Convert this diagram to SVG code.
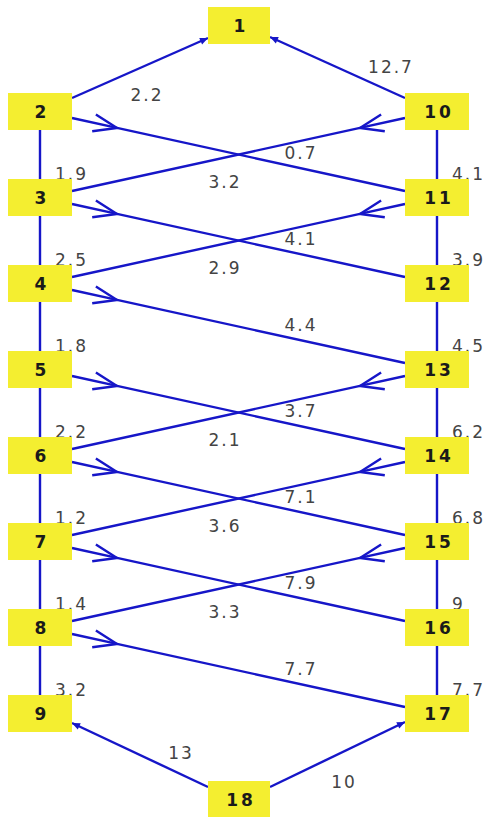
<svg xmlns="http://www.w3.org/2000/svg" width="488" height="817" viewBox="0 0 488 817">
<style>
.n rect{fill:#f4ee30}
.n text{font-family:"DejaVu Sans",Verdana,sans-serif;font-weight:bold;font-size:17px;fill:#1a1a1a;text-anchor:middle;letter-spacing:3px}
.e path{fill:none;stroke:#1616c8;stroke-width:2.4}
.l text{font-family:"DejaVu Sans",Verdana,sans-serif;font-size:17px;fill:#444;letter-spacing:2px}
.l .m{text-anchor:middle}
</style>
<defs>
<marker id="v" markerUnits="userSpaceOnUse" viewBox="-27 -11 30 22" refX="0" refY="0" markerWidth="30" markerHeight="22" orient="auto">
<path d="M-23.5,-8.6 L0,0 L-23.5,8.6" fill="none" stroke="#1616c8" stroke-width="2.4"/>
</marker>
<marker id="f" markerUnits="userSpaceOnUse" viewBox="-9 -5 10 10" refX="0" refY="0" markerWidth="10" markerHeight="10" orient="auto">
<path d="M-8,-3.5 L0,0 L-8,3.5 Z" fill="#1616c8"/>
</marker>
</defs>
<g id="connectors" class="e">
<path d="M72,98 L208,38" marker-end="url(#f)"/>
<path d="M405,98 L270,37" marker-end="url(#f)"/>
<path d="M208,787 L72,723" marker-end="url(#f)"/>
<path d="M270,787 L405,722" marker-end="url(#f)"/>
<path d="M40,130 V179 M40,216 V265 M40,302 V351 M40,388 V437 M40,474 V523 M40,560 V609 M40,646 V695"/>
<path d="M437,130 V179 M437,216 V265 M437,302 V351 M437,388 V437 M437,474 V523 M437,560 V609 M437,646 V695"/>
<path d="M72,118 L117,127.9 L405,191" marker-mid="url(#v)"/>
<path d="M72,204 L117,213.9 L405,277" marker-mid="url(#v)"/>
<path d="M72,290 L117,299.9 L405,363" marker-mid="url(#v)"/>
<path d="M72,376 L117,385.9 L405,449" marker-mid="url(#v)"/>
<path d="M72,462 L117,471.9 L405,535" marker-mid="url(#v)"/>
<path d="M72,548 L117,557.9 L405,621" marker-mid="url(#v)"/>
<path d="M72,634 L117,643.9 L405,707" marker-mid="url(#v)"/>
<path d="M405,118 L360,127.9 L72,191" marker-mid="url(#v)"/>
<path d="M405,204 L360,213.9 L72,277" marker-mid="url(#v)"/>
<path d="M405,376 L360,385.9 L72,449" marker-mid="url(#v)"/>
<path d="M405,462 L360,471.9 L72,535" marker-mid="url(#v)"/>
<path d="M405,548 L360,557.9 L72,621" marker-mid="url(#v)"/>
</g>
<g id="labels" class="l">
<text class="m" x="147" y="101">2.2</text>
<text class="m" x="391" y="73">12.7</text>
<text class="m" x="181" y="759">13</text>
<text class="m" x="344" y="788">10</text>
<text class="m" x="301" y="159">0.7</text>
<text class="m" x="225" y="187.5">3.2</text>
<text class="m" x="301" y="245">4.1</text>
<text class="m" x="225" y="273.5">2.9</text>
<text class="m" x="301" y="331">4.4</text>
<text class="m" x="301" y="417">3.7</text>
<text class="m" x="225" y="445.5">2.1</text>
<text class="m" x="301" y="503">7.1</text>
<text class="m" x="225" y="531.5">3.6</text>
<text class="m" x="301" y="589">7.9</text>
<text class="m" x="225" y="617.5">3.3</text>
<text class="m" x="301" y="675">7.7</text>
<text x="55" y="180">1.9</text>
<text x="55" y="266">2.5</text>
<text x="55" y="352">1.8</text>
<text x="55" y="438">2.2</text>
<text x="55" y="524">1.2</text>
<text x="55" y="610">1.4</text>
<text x="55" y="696">3.2</text>
<text x="452" y="180">4.1</text>
<text x="452" y="266">3.9</text>
<text x="452" y="352">4.5</text>
<text x="452" y="438">6.2</text>
<text x="452" y="524">6.8</text>
<text x="452" y="610">9</text>
<text x="452" y="696">7.7</text>
</g>
<g id="n1" class="n"><rect x="208" y="7" width="62" height="37"/><text x="241" y="32">1</text></g>
<g id="n2" class="n"><rect x="8" y="93" width="64" height="37"/><text x="42" y="118">2</text></g>
<g id="n3" class="n"><rect x="8" y="179" width="64" height="37"/><text x="42" y="204">3</text></g>
<g id="n4" class="n"><rect x="8" y="265" width="64" height="37"/><text x="42" y="290">4</text></g>
<g id="n5" class="n"><rect x="8" y="351" width="64" height="37"/><text x="42" y="376">5</text></g>
<g id="n6" class="n"><rect x="8" y="437" width="64" height="37"/><text x="42" y="462">6</text></g>
<g id="n7" class="n"><rect x="8" y="523" width="64" height="37"/><text x="42" y="548">7</text></g>
<g id="n8" class="n"><rect x="8" y="609" width="64" height="37"/><text x="42" y="634">8</text></g>
<g id="n9" class="n"><rect x="8" y="695" width="64" height="37"/><text x="42" y="720">9</text></g>
<g id="n10" class="n"><rect x="405" y="93" width="64" height="37"/><text x="439" y="118">10</text></g>
<g id="n11" class="n"><rect x="405" y="179" width="64" height="37"/><text x="439" y="204">11</text></g>
<g id="n12" class="n"><rect x="405" y="265" width="64" height="37"/><text x="439" y="290">12</text></g>
<g id="n13" class="n"><rect x="405" y="351" width="64" height="37"/><text x="439" y="376">13</text></g>
<g id="n14" class="n"><rect x="405" y="437" width="64" height="37"/><text x="439" y="462">14</text></g>
<g id="n15" class="n"><rect x="405" y="523" width="64" height="37"/><text x="439" y="548">15</text></g>
<g id="n16" class="n"><rect x="405" y="609" width="64" height="37"/><text x="439" y="634">16</text></g>
<g id="n17" class="n"><rect x="405" y="695" width="64" height="37"/><text x="439" y="720">17</text></g>
<g id="n18" class="n"><rect x="208" y="781" width="62" height="37"/><text x="241" y="806">18</text></g>
</svg>
